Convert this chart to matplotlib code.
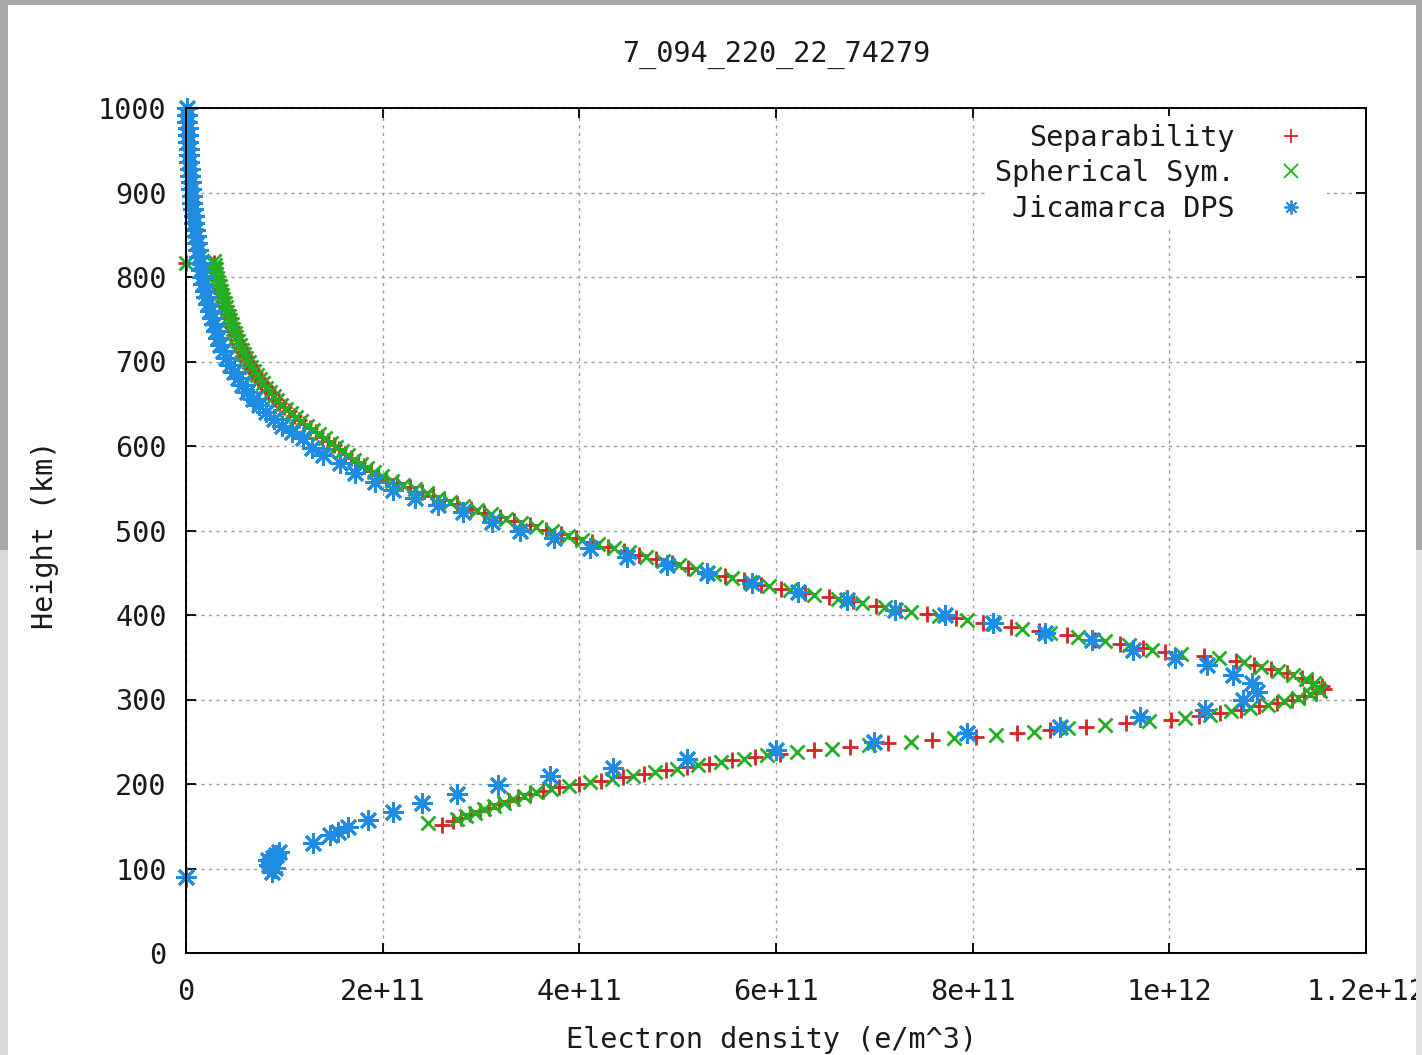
import matplotlib
matplotlib.use("Agg")
import matplotlib.pyplot as plt
from matplotlib.lines import Line2D
from matplotlib.patches import Rectangle

plt.rcParams['font.family'] = ['DejaVu Sans Mono', 'DejaVu Sans']

title = "7_094_220_22_74279"
labels = ["Separability", "Spherical Sym.", "Jicamarca DPS"]
x_ticks = [0, 2e11, 4e11, 6e11, 8e11, 1e12, 1.2e12]
x_ticklabels = ["0", "2e+11", "4e+11", "6e+11", "8e+11", "1e+12", "1.2e+12"]
y_ticks = [0, 100, 200, 300, 400, 500, 600, 700, 800, 900, 1000]

# Separability profile: height (km) and density (1e11 e/m^3)
sep_h = [152, 156, 160, 164, 168, 172, 176, 180, 184, 188, 192, 196, 200, 204,
         208, 212, 216, 220, 224, 228, 232, 236, 240, 244, 248, 252, 256, 260,
         264, 268, 272, 276, 280, 284, 288, 292, 296, 300, 304, 308, 312,
         316, 321, 326, 331, 336, 341, 346, 351, 356, 361, 366, 371, 376, 381,
         386, 391, 396, 401, 406, 411, 416, 421, 426, 431, 436, 441, 446, 451,
         456, 461, 466, 471, 476, 481, 486, 491, 496, 501, 506, 511, 516, 521,
         526, 531, 536, 541, 546, 551, 556, 561, 566, 571, 576, 581, 586, 591,
         596, 601, 606, 611, 616, 621, 626, 631, 636, 641, 646, 651, 656, 661,
         666, 671, 676, 681, 686, 691, 696, 701, 706, 711, 716, 721, 726, 731,
         736, 741, 746, 751, 756, 761, 766, 771, 776, 781, 786, 791, 796, 801,
         806, 811, 816, 817]
sep_n = [2.60, 2.72, 2.80, 2.89, 2.99, 3.08, 3.18, 3.28, 3.38, 3.50, 3.63, 3.79,
         4.00, 4.22, 4.44, 4.66, 4.88, 5.10, 5.32, 5.55, 5.79, 6.04, 6.39, 6.75,
         7.14, 7.59, 8.03, 8.45, 8.79, 9.15, 9.56, 10.02, 10.30, 10.52, 10.73,
         10.91, 11.09, 11.25, 11.37, 11.49, 11.57,
         11.55, 11.45, 11.35, 11.20, 11.03, 10.86, 10.68, 10.35, 9.96, 9.73,
         9.50, 9.24, 8.96, 8.67, 8.39, 8.11, 7.83, 7.54, 7.26, 7.02, 6.78, 6.54,
         6.29, 6.05, 5.85, 5.67, 5.48, 5.30, 5.11, 4.94, 4.78, 4.61, 4.45, 4.29,
         4.13, 3.97, 3.81, 3.66, 3.50, 3.34, 3.19, 3.03, 2.90, 2.76, 2.62, 2.51,
         2.40, 2.28, 2.15, 2.03, 1.95, 1.88, 1.81, 1.75, 1.68, 1.62, 1.56, 1.51,
         1.44, 1.38, 1.32, 1.26, 1.20, 1.15, 1.10, 1.05, 1.00, 0.95, 0.91, 0.87,
         0.83, 0.80, 0.76, 0.73, 0.70, 0.67, 0.65, 0.62, 0.60, 0.58, 0.56, 0.54,
         0.52, 0.51, 0.49, 0.47, 0.46, 0.44, 0.43, 0.42, 0.40, 0.39, 0.37, 0.36,
         0.35, 0.34, 0.32, 0.31, 0.30, 0.29, 0.28, 0.0]

# Spherical symmetry profile
sph_h = [154, 158, 162, 166, 170, 174, 178, 182, 186, 190, 194, 198, 202, 206,
         210, 214, 218, 222, 226, 230, 234, 238, 242, 246, 250, 254, 258, 262,
         266, 270, 274, 278, 282, 286, 290, 294, 298, 302, 306, 310, 314,
         319, 324, 329, 334, 339, 344, 349, 354, 359, 364, 369, 374, 379, 384,
         389, 394, 399, 404, 409, 414, 419, 424, 429, 434, 439, 444, 449, 454,
         459, 464, 469, 474, 479, 484, 489, 494, 499, 504, 509, 514, 519, 524,
         529, 534, 539, 544, 549, 554, 559, 564, 569, 574, 579, 584, 589, 594,
         599, 604, 609, 614, 619, 624, 629, 634, 639, 644, 649, 654, 659, 664,
         669, 674, 679, 684, 689, 694, 699, 704, 709, 714, 719, 724, 729, 734,
         739, 744, 749, 754, 759, 764, 769, 774, 779, 784, 789, 794, 799, 804,
         809, 814, 819, 817]
sph_n = [2.46, 2.76, 2.85, 2.94, 3.03, 3.13, 3.23, 3.33, 3.44, 3.56, 3.71, 3.89,
         4.11, 4.33, 4.55, 4.77, 4.99, 5.21, 5.44, 5.67, 5.91, 6.21, 6.57, 6.95,
         7.37, 7.81, 8.24, 8.62, 8.97, 9.35, 9.79, 10.16, 10.41, 10.63, 10.82,
         11.00, 11.17, 11.31, 11.43, 11.53, 11.50,
         11.47, 11.39, 11.26, 11.10, 10.93, 10.76, 10.50, 10.12, 9.82, 9.59,
         9.35, 9.07, 8.79, 8.50, 8.22, 7.94, 7.66, 7.37, 7.11, 6.87, 6.63, 6.39,
         6.14, 5.93, 5.74, 5.55, 5.37, 5.19, 5.01, 4.85, 4.68, 4.51, 4.35, 4.19,
         4.03, 3.88, 3.72, 3.56, 3.41, 3.25, 3.10, 2.96, 2.82, 2.68, 2.56, 2.45,
         2.33, 2.21, 2.09, 1.99, 1.91, 1.84, 1.78, 1.71, 1.65, 1.59, 1.53, 1.47,
         1.41, 1.35, 1.29, 1.23, 1.17, 1.12, 1.07, 1.02, 0.97, 0.93, 0.89, 0.85,
         0.81, 0.78, 0.75, 0.72, 0.69, 0.66, 0.64, 0.61, 0.59, 0.57, 0.55, 0.53,
         0.51, 0.50, 0.48, 0.47, 0.45, 0.44, 0.42, 0.41, 0.40, 0.38, 0.37, 0.36,
         0.35, 0.33, 0.32, 0.31, 0.30, 0.29, 0.28, 0.0]

# Jicamarca digisonde profile
dps_h = [1000, 992, 984, 976, 968, 960, 952, 944, 936, 928, 920, 912, 904, 896,
         888, 880, 872, 864, 856, 848, 840, 832, 824, 816, 808, 800, 792, 784,
         776, 768, 760, 752, 744, 736, 728, 720, 712, 704, 696, 688, 680, 672,
         664, 656, 648, 640, 632, 624, 616, 609,
         598, 589, 580, 568, 557, 548, 538, 530, 522, 510, 500, 491, 479, 469,
         459, 450, 438, 427, 418, 406, 400, 390, 379, 370, 359, 349, 341, 329,
         319, 309, 299, 288, 279, 267, 260, 250, 240, 229, 219, 209, 199, 188,
         178, 167, 157, 149, 143, 140, 130,
         120, 116, 112, 110, 108, 104, 101, 96, 90]
dps_n = [0.01, 0.01, 0.015, 0.02, 0.02, 0.025, 0.03, 0.03, 0.035, 0.04, 0.045,
         0.05, 0.055, 0.06, 0.065, 0.07, 0.08, 0.085, 0.09, 0.10, 0.11, 0.12,
         0.13, 0.14, 0.15, 0.16, 0.17, 0.19, 0.20, 0.22, 0.24, 0.26, 0.28, 0.30,
         0.33, 0.35, 0.38, 0.41, 0.45, 0.49, 0.53, 0.57, 0.62, 0.68, 0.74, 0.81,
         0.89, 0.98, 1.08, 1.19,
         1.28, 1.39, 1.57, 1.72, 1.92, 2.11, 2.33, 2.56, 2.82, 3.11, 3.40, 3.74,
         4.11, 4.48, 4.89, 5.30, 5.76, 6.22, 6.72, 7.21, 7.72, 8.21, 8.74, 9.21,
         9.63, 10.06, 10.38, 10.65, 10.84, 10.89, 10.75, 10.36, 9.70, 8.89, 7.94,
         7.00, 6.00, 5.10, 4.34, 3.70, 3.17, 2.76, 2.40, 2.11, 1.85, 1.65, 1.55,
         1.46, 1.29,
         0.95, 0.92, 0.88, 0.83, 0.86, 0.84, 0.90, 0.87, 0.0]

scale = 1e11
red, green, blue = '#d42424', '#22b022', '#1e8ce0'

fig = plt.figure(figsize=(14.22, 10.55), dpi=100)
W, H = 1422, 1055


def frame_strip(x0, top, w, h, c):
    # pixel box measured from the top-left corner
    fig.patches.append(Rectangle((x0 / W, 1 - (top + h) / H), w / W, h / H,
                                 transform=fig.transFigure, facecolor=c,
                                 edgecolor='none', zorder=0))


frame_strip(0, 0, W, 5, '#a9a9a9')
frame_strip(0, 0, 8, 550, '#a9a9a9')
frame_strip(0, 550, 8, 505, '#dadada')
frame_strip(1416, 0, 6, 550, '#a9a9a9')
frame_strip(1416, 550, 6, 505, '#e2e2e2')

ax = fig.add_axes([186 / W, 1 - 953 / H, 1180 / W, 845 / H])

ax.plot([v * scale for v in sep_n], sep_h, linestyle='none', marker='+', color=red,
        markersize=12, mew=2.0, clip_on=False)
ax.plot([v * scale for v in sph_n], sph_h, linestyle='none', marker='x', color=green,
        markersize=10, mew=2.0, clip_on=False)
ax.plot([v * scale for v in dps_n], dps_h, linestyle='none', marker=(8, 2, 0), color=blue,
        markersize=15, mew=2.0, clip_on=False)

ax.set_xlim(0, 1.2e12)
ax.set_ylim(0, 1000)
ax.set_xticks(x_ticks)
ax.set_xticklabels(x_ticklabels)
ax.set_yticks(y_ticks)
ax.tick_params(direction='in', top=True, right=True, length=7, width=1.3,
               labelsize=20.5, labelcolor='#1a1a1a')
ax.tick_params(axis='y', pad=14)
ax.tick_params(axis='x', pad=18)
ax.grid(True, color='#9a9a9a', linestyle=(0, (2.2, 3.2)), linewidth=1.0)
for s in ax.spines.values():
    s.set_linewidth(1.4)

handles = [Line2D([], [], linestyle='none', marker='+', color=red, markersize=10, mew=1.3),
           Line2D([], [], linestyle='none', marker='x', color=green, markersize=10, mew=1.3),
           Line2D([], [], linestyle='none', marker=(8, 2, 0), color=blue, markersize=10, mew=1.3)]
leg = ax.legend(handles, labels, loc='upper right', bbox_to_anchor=(0.967, 0.990),
                markerfirst=False, fontsize=20.5, handlelength=2.0, handletextpad=1.0,
                labelspacing=0.27, borderpad=0.25, borderaxespad=0,
                frameon=True, fancybox=False, framealpha=1)
leg.get_frame().set_edgecolor('none')
leg.get_frame().set_facecolor('white')
for t in leg.get_texts():
    t.set_color('#1a1a1a')

fig.text(776 / W, 1 - 55 / H, title, ha='center', va='center', fontsize=20.5, color='#1a1a1a')
fig.text(772 / W, 1 - 1040 / H, "Electron density (e/m^3)", ha='center', va='center',
         fontsize=20.5, color='#1a1a1a')
fig.text(45 / W, 1 - 535 / H, "Height (km)", ha='center', va='center', rotation=90,
         fontsize=20.5, color='#1a1a1a')

fig.savefig("out.png", dpi=100)
